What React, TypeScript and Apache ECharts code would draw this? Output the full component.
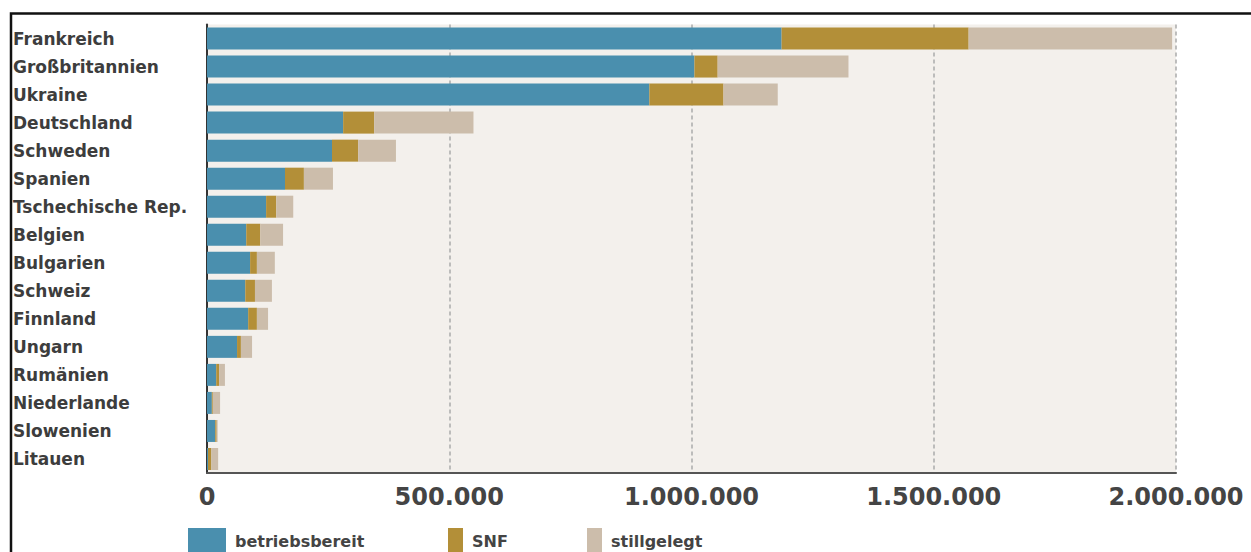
import React, { useEffect, useRef } from "react";
import * as echarts from "echarts";

const categories = [
  "Frankreich", "Großbritannien", "Ukraine", "Deutschland", "Schweden", "Spanien",
  "Tschechische Rep.", "Belgien", "Bulgarien", "Schweiz", "Finnland", "Ungarn",
  "Rumänien", "Niederlande", "Slowenien", "Litauen",
];
const betriebsbereit = [1186000, 1006000, 913000, 281000, 258000, 161000, 122000, 81000, 89000, 79000, 85000, 62000, 19000, 10000, 17000, 2000];
const snf = [386000, 48000, 153000, 64000, 54000, 39000, 21000, 29000, 14000, 20000, 18000, 8000, 6000, 2000, 3000, 7000];
const stillgelegt = [420000, 270000, 112000, 205000, 78000, 60000, 35000, 47000, 37000, 35000, 23000, 23000, 12000, 15000, 2000, 14000];
const seriesNames = ["betriebsbereit", "SNF", "stillgelegt"];
const colors = ["#4a8fae", "#b38f38", "#ccbdab"];

const FONT = "'DejaVu Sans', sans-serif";
const fmt = (v: number) => String(v).replace(/\B(?=(\d{3})+(?!\d))/g, ".");

export default function App() {
  const ref = useRef<HTMLDivElement>(null);
  useEffect(() => {
    if (!ref.current) return;
    const chart = echarts.init(ref.current, undefined, { renderer: "svg" });
    const values = [betriebsbereit, snf, stillgelegt];
    const legendPos = [
      { left: 188, w: 38 },
      { left: 448, w: 15 },
      { left: 587, w: 15 },
    ];
    chart.setOption({
      animation: false,
      backgroundColor: "#ffffff",
      grid: {
        left: 207,
        right: 75,
        top: 24.5,
        bottom: 79,
        show: true,
        backgroundColor: "#f3f0ec",
        borderWidth: 0,
      },
      legend: seriesNames.map((n, i) => ({
        data: [n],
        left: legendPos[i].left,
        top: 528,
        padding: 0,
        itemWidth: legendPos[i].w,
        itemHeight: 26,
        icon: "rect",
        textStyle: {
          fontFamily: FONT,
          fontWeight: "bold",
          fontSize: 16,
          lineHeight: 18,
          color: "#444",
          padding: [0, 0, 0, 4],
        },
      })),
      xAxis: {
        type: "value",
        min: 0,
        max: 2000000,
        interval: 500000,
        axisLine: { show: true, lineStyle: { color: "#555", width: 2 } },
        axisTick: { show: false },
        splitLine: { show: true, lineStyle: { color: "#aaa", width: 1.5, type: [4, 3] } },
        axisLabel: {
          formatter: (v: number) => fmt(v),
          fontFamily: FONT,
          fontWeight: "bold",
          fontSize: 24,
          color: "#444",
          margin: 12,
        },
      },
      yAxis: {
        type: "category",
        data: categories,
        inverse: true,
        axisLine: { show: true, lineStyle: { color: "#333", width: 2 } },
        axisTick: { show: false },
        axisLabel: {
          align: "left",
          margin: 194,
          fontFamily: FONT,
          fontWeight: "bold",
          fontSize: 17,
          color: "#3d3d3d",
        },
      },
      series: seriesNames.map((n, i) => ({
        name: n,
        type: "bar",
        stack: "total",
        data: values[i],
        barWidth: 22,
        itemStyle: { color: colors[i] },
      })),
      graphic: [
        {
          type: "rect",
          shape: { x: 11, y: 13.5, width: 1400, height: 700 },
          style: { fill: "none", stroke: "#111", lineWidth: 2.5 },
          silent: true,
        },
      ],
    });
    return () => chart.dispose();
  }, []);
  return (
    <div
      ref={ref}
      style={{ position: "absolute", left: 0, top: 0, width: 1251, height: 552, background: "#fff" }}
    />
  );
}
